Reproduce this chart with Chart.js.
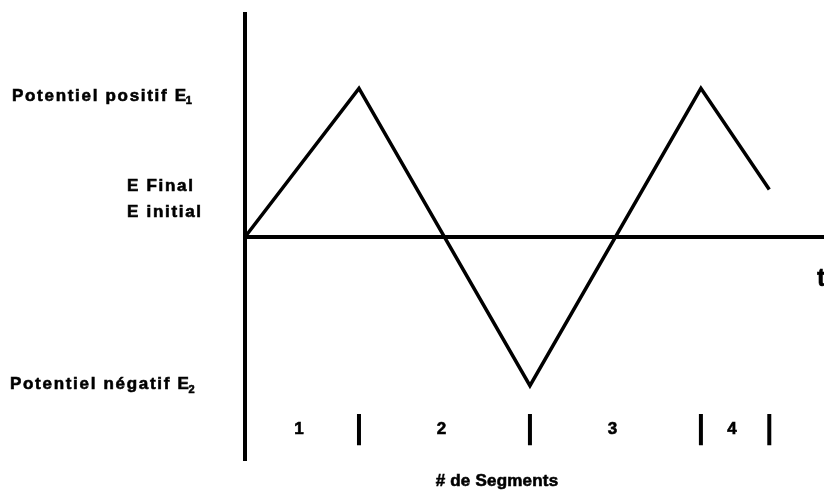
<!DOCTYPE html>
<html lang="fr">
<head>
    <meta charset="UTF-8">
    <title>Voltammétrie cyclique - segments</title>
    <script src="https://cdn.jsdelivr.net/npm/chart.js"></script>
    <style>
        body {
            margin: 0;
            background: white;
            overflow: hidden;
        }
        #wrap {
            width: 824px;
            height: 497px;
        }
    </style>
</head>
<body>
    <div id="wrap">
        <canvas id="cvChart" width="824" height="497"></canvas>
    </div>

    <script>
    // potential program (time in arbitrary units, potential normalised to E1 = 1)
    const times = [0, 1, 2.5, 4, 4.6];
    const potentials = [0, 1, -1, 1, 0.32];

    // segment boundaries and their numbers
    const segmentEdges = [0, 1, 2.5, 4, 4.6];
    const segmentLabels = ['1', '2', '3', '4'];

    // names of the potentials on the left
    const potentialNames = ['Potentiel positif E', 'E Final', 'E initial', 'Potentiel négatif E'];
    const potentialSubs = ['1', '', '', '2'];
    const potentialValues = [1, 0.32, 0, -1];

    const markTop = -1.19;
    const markBottom = -1.40;

    // short vertical marks under the curve, one per segment end (null = gap)
    const markPoints = [];
    segmentEdges.slice(1).forEach(t => {
        markPoints.push({ x: t, y: markTop }, { x: t, y: markBottom }, { x: t, y: null });
    });

    const FONT = '"Liberation Sans", Arial, sans-serif';

    // bold text, a bit heavier like the scanned figure
    function heavyText(ctx, txt, x, y) {
        ctx.fillText(txt, x, y);
        ctx.strokeText(txt, x, y);
    }

    const textPlugin = {
        id: 'cvText',
        afterDraw(chart) {
            const ctx = chart.ctx;
            const xs = chart.scales.x;
            const ys = chart.scales.y;
            ctx.save();
            ctx.fillStyle = 'black';
            ctx.strokeStyle = 'black';
            ctx.lineWidth = 0.6;
            ctx.textBaseline = 'middle';

            // labels of the potentials
            const lx = [12, 127, 127, 10];
            const dy = [8, -3, -25, -1];
            potentialNames.forEach((name, i) => {
                const y = ys.getPixelForValue(potentialValues[i]) + dy[i];
                ctx.font = 'bold 17px ' + FONT;
                ctx.letterSpacing = '1.7px';
                ctx.textAlign = 'left';
                heavyText(ctx, name, lx[i], y);
                if (potentialSubs[i]) {
                    const w = ctx.measureText(name).width;
                    ctx.font = 'bold 11px ' + FONT;
                    heavyText(ctx, potentialSubs[i], lx[i] + w - 2, y + 5);
                }
            });

            // segment numbers
            ctx.font = 'bold 17px ' + FONT;
            ctx.letterSpacing = '0px';
            ctx.textAlign = 'center';
            const ly = ys.getPixelForValue((markTop + markBottom) / 2);
            segmentLabels.forEach((lab, i) => {
                const mid = (segmentEdges[i] + segmentEdges[i + 1]) / 2;
                heavyText(ctx, lab, xs.getPixelForValue(mid) - 3, ly);
            });

            // axis titles
            ctx.letterSpacing = '0.2px';
            heavyText(ctx, '# de Segments', 497, 481);
            ctx.font = 'bold 25px ' + FONT;
            ctx.textAlign = 'left';
            ctx.letterSpacing = '0px';
            heavyText(ctx, 't', 817, ys.getPixelForValue(0) + 42);
            ctx.restore();
        }
    };

    new Chart(document.getElementById('cvChart'), {
        type: 'line',
        data: {
            datasets: [{
                label: 'Potentiel',
                data: times.map((t, i) => ({ x: t, y: potentials[i] })),
                borderColor: 'black',
                borderWidth: 3.5,
                pointRadius: 0,
                tension: 0,
                clip: false
            }, {
                label: 'Segments',
                data: markPoints,
                borderColor: 'black',
                borderWidth: 4,
                pointRadius: 0,
                spanGaps: false,
                clip: false
            }]
        },
        options: {
            responsive: false,
            animation: false,
            devicePixelRatio: 1,
            layout: {
                padding: { left: 245, top: 14, right: 0, bottom: 37 }
            },
            plugins: {
                legend: { display: false },
                tooltip: { enabled: false }
            },
            scales: {
                x: {
                    type: 'linear',
                    min: 0,
                    max: 5.08,
                    position: { y: 0 },
                    grid: { display: false, drawTicks: false },
                    ticks: { display: false },
                    border: { display: true, color: 'black', width: 4 }
                },
                y: {
                    type: 'linear',
                    min: -1.5,
                    max: 1.5,
                    grid: { display: false, drawTicks: false },
                    ticks: { display: false },
                    border: { display: true, color: 'black', width: 4 }
                }
            }
        },
        plugins: [textPlugin]
    });
    </script>
</body>
</html>
